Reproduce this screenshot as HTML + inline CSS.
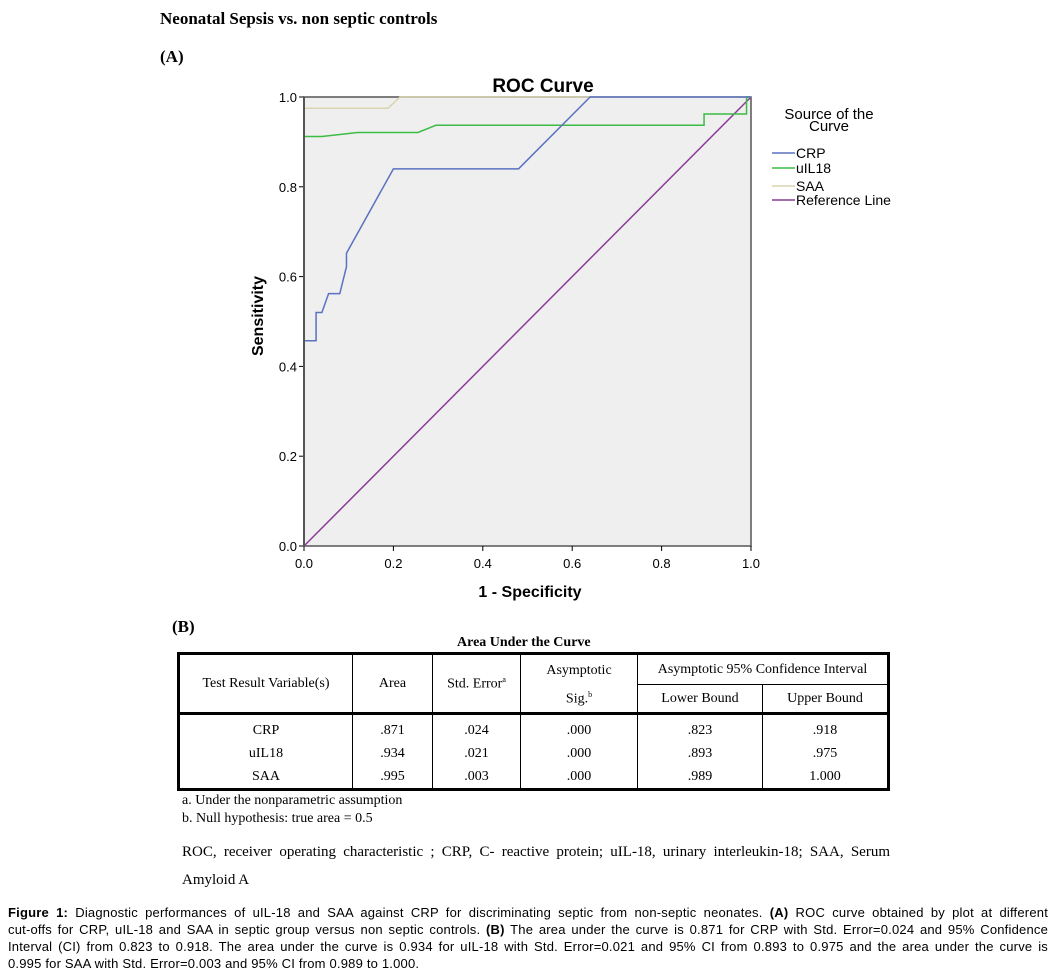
<!DOCTYPE html>
<html><head><meta charset="utf-8"><style>
body{margin:0;background:#fff;width:1056px;height:975px;position:relative;overflow:hidden;font-family:"Liberation Serif",serif;color:#000}
.a{position:absolute;white-space:nowrap}
table{position:absolute;left:177px;top:652px;border-collapse:collapse;border:3px solid #000;font-family:"Liberation Serif",serif;font-size:14px}
td{text-align:center;padding:0;border-left:1px solid #000}
.body td{line-height:23px;padding-top:4px;vertical-align:top}
.cap{font-family:"Liberation Sans",sans-serif;font-size:13px;letter-spacing:0.2px;line-height:17px;left:8px;width:1040px;white-space:normal}
.cap div{text-align:justify;text-align-last:justify;white-space:nowrap}
.cap div.last{text-align-last:left}
</style></head><body>
<div class="a" style="left:160px;top:9px;font-size:17px;font-weight:bold">Neonatal Sepsis vs. non septic controls</div>
<div class="a" style="left:160px;top:47px;font-size:17px;font-weight:bold">(A)</div>
<svg class="a" style="left:0;top:0" width="1056" height="620" id="chart"></svg>
<div class="a" style="left:172px;top:617px;font-size:17px;font-weight:bold">(B)</div>
<div class="a" style="left:457px;top:635px;font-size:14px;font-weight:bold">Area Under the Curve</div>
<table>
<tr><td rowspan="2" style="width:172px;border-left:0;height:56px">Test Result Variable(s)</td><td rowspan="2" style="width:79px">Area</td><td rowspan="2" style="width:87px">Std. Error<sup style="font-size:8px">a</sup></td><td rowspan="2" style="width:116px;line-height:24px;padding-top:4px">Asymptotic<br>Sig.<sup style="font-size:8px">b</sup></td><td colspan="2" style="border-bottom:1px solid #000;height:29px">Asymptotic 95% Confidence Interval</td></tr>
<tr><td style="width:124px;height:27px">Lower Bound</td><td style="width:124px">Upper Bound</td></tr>
<tr class="body" style="border-top:3px solid #000"><td style="border-left:0">CRP<br>uIL18<br>SAA</td><td>.871<br>.934<br>.995</td><td>.024<br>.021<br>.003</td><td>.000<br>.000<br>.000</td><td>.823<br>.893<br>.989</td><td>.918<br>.975<br>1.000</td></tr>
</table>
<div class="a" style="left:182px;top:793px;font-size:14px">a. Under the nonparametric assumption</div>
<div class="a" style="left:182px;top:811px;font-size:14px">b. Null hypothesis: true area = 0.5</div>
<div class="a" style="left:182px;top:838px;font-size:15px;width:708px;white-space:normal;line-height:28px;text-align:justify;text-align-last:left">ROC, receiver operating characteristic ; CRP, C- reactive protein; uIL-18, urinary interleukin-18; SAA, Serum Amyloid A</div>
<div class="a cap" style="top:904px">
<div><b>Figure 1:</b> Diagnostic performances of uIL-18 and SAA against CRP for discriminating septic from non-septic neonates. <b>(A)</b> ROC curve obtained by plot at different</div>
<div>cut-offs for CRP, uIL-18 and SAA in septic group versus non septic controls. <b>(B)</b> The area under the curve is 0.871 for CRP with Std. Error=0.024 and 95% Confidence</div>
<div>Interval (CI) from 0.823 to 0.918. The area under the curve is 0.934 for uIL-18 with Std. Error=0.021 and 95% CI from 0.893 to 0.975 and the area under the curve is</div>
<div class="last">0.995 for SAA with Std. Error=0.003 and 95% CI from 0.989 to 1.000.</div>
</div>
<script>
const crpX=[0,0,0.027,0.027,0.04,0.055,0.08,0.095,0.095,0.2,0.48,0.64,1];
const crpY=[0,0.457,0.457,0.52,0.52,0.562,0.562,0.622,0.652,0.84,0.84,1,1];
const ilX=[0,0,0.04,0.12,0.255,0.295,0.895,0.895,0.99,0.99,1];
const ilY=[0,0.912,0.912,0.921,0.921,0.937,0.937,0.962,0.962,1,1];
const saaX=[0,0,0.188,0.215,1];
const saaY=[0,0.975,0.975,1,1];
const refX=[0,1];const refY=[0,1];
const ticks=[0,0.2,0.4,0.6,0.8,1.0];
const tickLabels=["0.0","0.2","0.4","0.6","0.8","1.0"];
const L=304,R=751,T=97,B=546;
const sx=v=>L+v*(R-L), sy=v=>B-v*(B-T);
const svg=document.getElementById('chart');const NS='http://www.w3.org/2000/svg';
function mk(t,a,p){const e=document.createElementNS(NS,t);for(const k in a)e.setAttribute(k,a[k]);(p||svg).appendChild(e);return e;}
const bg=mk('rect',{x:L,y:T,width:R-L,height:B-T,fill:'#efefef',stroke:'#555','stroke-width':1.5});


ticks.forEach((t,i)=>{
 const ty=mk('text',{x:L-7,y:sy(t)+5,'text-anchor':'end','font-family':'Liberation Sans,sans-serif','font-size':13});ty.textContent=tickLabels[i];
 
 
 mk('line',{x1:L-5,x2:L,y1:sy(t),y2:sy(t),stroke:'#000'});
 const tx=mk('text',{x:sx(t),y:B+22,'text-anchor':'middle','font-family':'Liberation Sans,sans-serif','font-size':13});tx.textContent=tickLabels[i];
 
 
 mk('line',{x1:sx(t),x2:sx(t),y1:B,y2:B+5,stroke:'#000'});
});
function series(xs,ys,c,name){const p=mk('polyline',{points:xs.map((x,i)=>sx(x)+','+sy(ys[i])).join(' '),fill:'none',stroke:c,'stroke-width':1.5});
 
 }
series(refX,refY,'#8a3c96','reference-line');
series(saaX,saaY,'#d8d5b0','saa-curve');
series(ilX,ilY,'#3dbb45','uil18-curve');
series(crpX,crpY,'#5a72c0','crp-curve');
mk('line',{x1:L,x2:L,y1:T,y2:B+1,stroke:'#555','stroke-width':2});
const tt=mk('text',{x:543,y:92,'text-anchor':'middle','font-family':'Liberation Sans,sans-serif','font-size':19,'font-weight':'bold'});tt.textContent='ROC Curve';


const xl=mk('text',{x:530,y:597,'text-anchor':'middle','font-family':'Liberation Sans,sans-serif','font-size':16,'font-weight':'bold'});xl.textContent='1 - Specificity';


const yl=mk('text',{x:0,y:0,transform:'translate(263,316) rotate(-90)','text-anchor':'middle','font-family':'Liberation Sans,sans-serif','font-size':16,'font-weight':'bold'});yl.textContent='Sensitivity';


const lt1=mk('text',{x:829,y:119,'text-anchor':'middle','font-family':'Liberation Sans,sans-serif','font-size':15});lt1.textContent='Source of the';


const lt2=mk('text',{x:829,y:131,'text-anchor':'middle','font-family':'Liberation Sans,sans-serif','font-size':15});lt2.textContent='Curve';
const leg=[['CRP','#5a72c0',153],['uIL18','#3dbb45',168],['SAA','#d8d5b0',186],['Reference Line','#8a3c96',200]];
leg.forEach(l=>{mk('line',{x1:772,x2:795,y1:l[2],y2:l[2],stroke:l[1],'stroke-width':1.5});
 const t=mk('text',{x:796,y:l[2]+5,'font-family':'Liberation Sans,sans-serif','font-size':14});t.textContent=l[0];
 
 });
</script>
</body></html>
